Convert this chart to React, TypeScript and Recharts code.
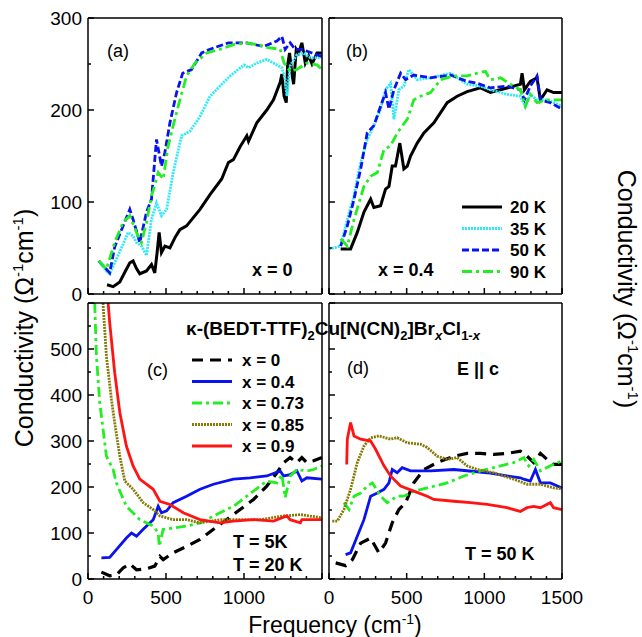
import { Line, LineChart, XAxis, YAxis } from "recharts";

// conductivity spectra, [frequency cm^-1, sigma Ohm^-1 cm^-1]
const a20K = [[122,10],[161,8],[204,13],[240,25],[268,34],[289,36],[310,28],[332,22],[375,25],[407,32],[428,23],[443,45],[456,67],[471,45],[493,52],[525,50],[560,62],[589,70],[632,74],[675,83],[718,92],[782,108],[857,125],[900,143],[932,146],[975,160],[1018,172],[1029,166],[1082,186],[1146,200],[1189,211],[1232,230],[1243,239],[1257,215],[1271,208],[1279,248],[1292,262],[1307,240],[1318,228],[1335,266],[1350,262],[1371,273],[1393,251],[1414,259],[1436,250],[1468,262],[1500,262]];
const a35K = [[69,36],[118,25],[139,22],[171,34],[225,54],[257,67],[289,63],[311,56],[343,52],[375,42],[407,81],[439,99],[471,85],[504,92],[546,132],[600,172],[654,177],[718,193],[782,215],[846,226],[911,237],[1000,249],[1029,246],[1082,251],[1146,255],[1211,249],[1243,246],[1264,233],[1275,215],[1296,248],[1339,260],[1382,262],[1425,257],[1500,257]];
const a50K = [[69,36],[139,23],[171,51],[225,74],[268,92],[289,81],[332,56],[375,89],[407,103],[439,168],[471,139],[493,154],[525,186],[568,219],[607,240],[664,244],[729,262],[782,266],[900,273],[1018,273],[1125,269],[1211,275],[1243,280],[1264,266],[1296,273],[1328,266],[1371,266],[1436,262],[1500,258]];
const a90K = [[69,36],[118,27],[171,56],[225,78],[268,85],[311,67],[343,56],[375,78],[407,107],[428,118],[450,132],[482,125],[514,161],[546,183],[589,211],[632,237],[686,251],[761,262],[846,266],[932,271],[1007,273],[1093,271],[1146,268],[1232,266],[1257,251],[1296,242],[1339,244],[1403,251],[1468,249],[1500,244]];

const b20K = [[75,49],[139,49],[182,67],[225,89],[268,103],[289,94],[332,96],[364,114],[386,117],[407,139],[428,139],[456,164],[482,136],[504,139],[525,150],[568,164],[611,175],[675,186],[761,208],[825,215],[889,220],[975,224],[1039,219],[1104,222],[1189,226],[1232,228],[1243,240],[1258,222],[1296,231],[1339,235],[1361,211],[1404,222],[1446,219],[1500,219]];
const b35K = [[0,49],[75,52],[118,81],[161,107],[204,143],[246,168],[289,183],[332,201],[364,222],[396,229],[418,190],[450,222],[482,226],[514,244],[568,233],[654,235],[782,240],[889,228],[975,226],[1039,222],[1146,217],[1232,215],[1264,204],[1296,217],[1339,211],[1404,211],[1500,204]];
const b50K = [[75,52],[118,74],[161,103],[204,136],[246,175],[289,183],[332,204],[364,219],[386,201],[418,222],[461,240],[493,233],[546,238],[654,235],[782,238],[889,231],[954,229],[1039,224],[1146,226],[1232,222],[1258,211],[1296,226],[1339,237],[1361,211],[1425,208],[1500,201]];
const b90K = [[75,60],[118,52],[161,81],[225,117],[268,128],[311,132],[354,157],[396,161],[439,175],[504,190],[546,211],[589,215],[654,219],[718,233],[804,237],[889,237],[954,240],[1007,242],[1039,233],[1104,235],[1168,228],[1232,222],[1264,204],[1296,217],[1339,208],[1404,211],[1500,211]];

const c0 = [[86,15],[139,7],[182,9],[225,24],[268,33],[311,20],[375,22],[428,28],[461,49],[482,42],[546,57],[632,71],[718,86],[804,108],[889,129],[975,151],[1061,173],[1146,202],[1211,231],[1254,253],[1296,264],[1339,253],[1371,264],[1403,253],[1446,257],[1500,264]];
const c04 = [[86,46],[139,47],[182,64],[246,89],[279,100],[311,93],[354,108],[418,129],[450,158],[471,144],[504,148],[546,166],[632,180],[718,195],[804,206],[932,217],[1039,220],[1146,224],[1232,235],[1254,224],[1296,227],[1339,235],[1371,213],[1403,220],[1500,217]];
const c073 = [[43,600],[54,485],[75,384],[118,267],[161,238],[182,209],[246,158],[332,129],[418,115],[450,100],[457,71],[482,108],[546,111],[632,115],[718,122],[846,144],[932,158],[1018,180],[1104,202],[1146,213],[1211,209],[1243,227],[1264,177],[1296,224],[1339,238],[1403,235],[1446,238],[1500,246]];
const c085 = [[96,600],[118,485],[150,391],[171,340],[204,267],[236,213],[289,195],[354,166],[418,151],[461,137],[546,129],[632,129],[718,122],[846,129],[975,129],[1104,129],[1254,137],[1361,140],[1500,133]];
const c09 = [[129,600],[139,558],[171,449],[204,362],[246,289],[289,246],[332,217],[418,195],[461,169],[525,162],[611,144],[718,129],[846,122],[932,126],[1061,129],[1189,126],[1275,137],[1296,129],[1361,122],[1371,129],[1425,129],[1500,129]];

const d0 = [[43,35],[107,29],[150,42],[204,78],[268,89],[321,57],[364,78],[407,122],[450,151],[493,166],[546,209],[611,238],[696,253],[804,267],[889,273],[975,273],[1061,271],[1146,273],[1232,278],[1275,267],[1318,253],[1361,273],[1404,260],[1446,249],[1500,249]];
const d04 = [[107,53],[139,57],[182,93],[225,129],[268,180],[311,187],[354,195],[386,209],[407,238],[439,231],[471,242],[525,235],[654,235],[804,238],[1018,231],[1146,224],[1232,220],[1254,217],[1296,213],[1329,238],[1361,209],[1425,209],[1500,198]];
const d073 = [[96,166],[129,151],[161,180],[204,187],[246,202],[279,209],[332,180],[375,166],[439,180],[482,180],[546,191],[632,198],[761,209],[868,224],[975,235],[1104,246],[1189,253],[1254,264],[1286,246],[1318,260],[1361,235],[1425,246],[1500,257]];
const d085 = [[21,126],[54,126],[96,151],[139,195],[182,253],[225,289],[268,307],[321,311],[396,304],[439,307],[504,296],[589,293],[632,286],[696,267],[761,260],[825,264],[889,246],[954,238],[1061,231],[1189,217],[1275,206],[1361,206],[1446,198],[1500,196]];
const d09 = [[114,249],[118,304],[139,340],[161,311],[204,304],[268,300],[300,282],[354,246],[396,224],[461,202],[546,191],[632,180],[675,173],[804,169],[911,166],[1018,162],[1146,155],[1232,147],[1275,155],[1318,158],[1361,155],[1425,166],[1446,155],[1500,151]];

const freqTicks = [0,100,200,300,400,500,600,700,800,900,1000,1100,1200,1300,1400,1500];
const topTicks = [0,50,100,150,200,250,300];
const bottomTicks = [0,50,100,150,200,250,300,350,400,450,500,550,600];

const tempLegend = ["20 K", "35 K", "50 K", "90 K"];
const dopingLegend = ["x = 0", "x = 0.4", "x = 0.73", "x = 0.85", "x = 0.9"];

const W = 642;
const H = 637;
const FONT = "'Liberation Sans', Arial, sans-serif";

const BLACK = "#000";
const CYAN = "#2EEAF8";
const BLUE = "#0A12EE";
const GREEN = "#22EE22";
const OLIVE = "#857A05";
const RED = "#FF1414";

const pts = (arr: number[][]) => arr.map(([f, v]) => ({ f, v }));

type Side = "bottom" | "top" | "left" | "right";

function tickFn(side: Side, labels: number[], majorStep: number) {
  return (p: any) => {
    const { x, y, payload } = p;
    const v = payload.value;
    const len = v % majorStep === 0 ? 6 : 3;
    const show = labels.includes(v);
    const txt = { fontFamily: FONT, fontSize: 19, fill: "#000" };
    if (side === "bottom")
      return (
        <g>
          <line x1={x} y1={y} x2={x} y2={y - len} stroke="#000" strokeWidth={1.5} />
          {show && <text x={x} y={y + 25} textAnchor="middle" {...txt}>{v}</text>}
        </g>
      );
    if (side === "top")
      return <line x1={x} y1={y} x2={x} y2={y + len} stroke="#000" strokeWidth={1.5} />;
    if (side === "left")
      return (
        <g>
          <line x1={x} y1={y} x2={x + len} y2={y} stroke="#000" strokeWidth={1.5} />
          {show && <text x={x - 6} y={y + 7} textAnchor="end" {...txt}>{v}</text>}
        </g>
      );
    return (
      <g>
        <line x1={x} y1={y} x2={x - len} y2={y} stroke="#000" strokeWidth={1.5} />
        {show && <text x={x + 8} y={y + 7} textAnchor="start" {...txt}>{v}</text>}
      </g>
    );
  };
}

type Series = { data: number[][]; color: string; dash?: string; width?: number };

function Panel({
  box, yMax, yTicks, xLabels, leftLabels, rightLabels, series,
}: {
  box: [number, number, number, number];
  yMax: number;
  yTicks: number[];
  xLabels: number[];
  leftLabels: number[];
  rightLabels: number[];
  series: Series[];
}) {
  const [l, r, t, b] = box;
  const axisLine = { stroke: "#000", strokeWidth: 1.5 };
  // each axis is 1px thick, margins leave room so the plot area lands on the box
  return (
    <div style={{ position: "absolute", left: 0, top: 0 }}>
      <LineChart width={W} height={H} margin={{ left: l - 1, right: W - r - 1, top: t - 1, bottom: H - b - 1 }}>
        <XAxis xAxisId="b" dataKey="f" type="number" domain={[0, 1500]} ticks={freqTicks} interval={0}
          height={1} tickSize={0} tickMargin={0} tickLine={false} axisLine={axisLine}
          tick={tickFn("bottom", xLabels, 500)} />
        <XAxis xAxisId="t" orientation="top" dataKey="f" type="number" domain={[0, 1500]} ticks={freqTicks} interval={0}
          height={1} tickSize={0} tickMargin={0} tickLine={false} axisLine={axisLine}
          tick={tickFn("top", [], 500)} />
        <YAxis yAxisId="l" type="number" domain={[0, yMax]} ticks={yTicks} interval={0}
          width={1} tickSize={0} tickMargin={0} tickLine={false} axisLine={axisLine}
          tick={tickFn("left", leftLabels, 100)} />
        <YAxis yAxisId="r" orientation="right" type="number" domain={[0, yMax]} ticks={yTicks} interval={0}
          width={1} tickSize={0} tickMargin={0} tickLine={false} axisLine={axisLine}
          tick={tickFn("right", rightLabels, 100)} />
        {series.map((s, i) => (
          <Line key={i} xAxisId="b" yAxisId="l" data={pts(s.data)} dataKey="v" type="linear"
            stroke={s.color} strokeWidth={s.width ?? 2.8} strokeDasharray={s.dash}
            dot={false} isAnimationActive={false} />
        ))}
      </LineChart>
    </div>
  );
}

const DOT = "2 1";
const DASH = "7 3";
const DASHDOT = "10 4 3 4";
const LONGDASH = "11 7";

const tempStyles: Series[] = [
  { data: [], color: BLACK, width: 3 },
  { data: [], color: CYAN, dash: DOT },
  { data: [], color: BLUE, dash: DASH },
  { data: [], color: GREEN, dash: DASHDOT },
];
const dopingStyles: Series[] = [
  { data: [], color: BLACK, dash: LONGDASH, width: 3.2 },
  { data: [], color: BLUE },
  { data: [], color: GREEN, dash: DASHDOT },
  { data: [], color: OLIVE, dash: DOT },
  { data: [], color: RED },
];

const withData = (styles: Series[], sets: number[][][]) => styles.map((s, i) => ({ ...s, data: sets[i] }));

export default function App() {
  const bold = { fontFamily: FONT, fontWeight: "bold" as const, fill: "#000" };
  const plain = { fontFamily: FONT, fill: "#000" };
  return (
    <div style={{ position: "absolute", left: 0, top: 0, width: W, height: H, background: "#fff" }}>
      <Panel box={[88, 322, 18, 294]} yMax={300} yTicks={topTicks} xLabels={[]} leftLabels={[0, 100, 200, 300]}
        rightLabels={[]} series={withData(tempStyles, [a20K, a35K, a50K, a90K])} />
      <Panel box={[329, 562, 18, 294]} yMax={300} yTicks={topTicks} xLabels={[]} leftLabels={[]}
        rightLabels={[0, 100, 200, 300]} series={withData(tempStyles, [b20K, b35K, b50K, b90K])} />
      <Panel box={[88, 322, 303, 579]} yMax={600} yTicks={bottomTicks} xLabels={[0, 500, 1000]}
        leftLabels={[0, 100, 200, 300, 400, 500]} rightLabels={[]} series={withData(dopingStyles, [c0, c04, c073, c085, c09])} />
      <Panel box={[329, 562, 303, 579]} yMax={600} yTicks={bottomTicks} xLabels={[0, 500, 1000, 1500]}
        leftLabels={[]} rightLabels={[0, 100, 200, 300, 400, 500]} series={withData(dopingStyles, [d0, d04, d073, d085, d09])} />
      <svg width={W} height={H} style={{ position: "absolute", left: 0, top: 0 }}>
        <text x={107} y={57} fontSize={18} {...plain}>(a)</text>
        <text x={346} y={57} fontSize={18} {...plain}>(b)</text>
        <text x={147} y={376} fontSize={18} {...plain}>(c)</text>
        <text x={347} y={374} fontSize={18} {...plain}>(d)</text>
        <text x={252} y={276} fontSize={18} {...bold}>x = 0</text>
        <text x={378} y={276} fontSize={18} {...bold}>x = 0.4</text>
        <text x={457} y={375} fontSize={18} {...bold}>E || c</text>
        <text x={233} y={548} fontSize={18} {...bold}>T = 5K</text>
        <text x={233} y={571} fontSize={18} {...bold}>T = 20 K</text>
        <text x={465} y={560} fontSize={18} {...bold}>T = 50 K</text>

        {tempLegend.map((name, i) => {
          const s = tempStyles[i];
          const y = 207 + i * 21.5;
          return (
            <g key={name}>
              <line x1={462} x2={502} y1={y} y2={y} stroke={s.color} strokeWidth={s.width ?? 2.8} strokeDasharray={s.dash} />
              <text x={510} y={y + 6} fontSize={17} {...bold}>{name}</text>
            </g>
          );
        })}
        {dopingLegend.map((name, i) => {
          const s = dopingStyles[i];
          const y = 360 + i * 21.5;
          return (
            <g key={name}>
              <line x1={192} x2={232} y1={y} y2={y} stroke={s.color} strokeWidth={s.width ?? 2.8} strokeDasharray={s.dash} />
              <text x={242} y={y + 6} fontSize={17} {...bold}>{name}</text>
            </g>
          );
        })}

        <text x={333} y={335} textAnchor="middle" fontSize={19} {...bold}>
          κ-(BEDT-TTF)<tspan fontSize={13} dy={5}>2</tspan>
          <tspan dy={-5}>Cu[N(CN)</tspan><tspan fontSize={13} dy={5}>2</tspan>
          <tspan dy={-5}>]Br</tspan><tspan fontSize={13} dy={5} fontStyle="italic">x</tspan>
          <tspan dy={-5}>Cl</tspan><tspan fontSize={13} dy={5}>1-</tspan><tspan fontSize={13} fontStyle="italic">x</tspan>
        </text>

        <text transform="translate(33,328) rotate(-90)" textAnchor="middle" fontSize={25} {...plain}>
          Conductivity (Ω<tspan fontSize={15} dy={-10}>-1</tspan><tspan dy={10}>cm</tspan>
          <tspan fontSize={15} dy={-10}>-1</tspan><tspan dy={10}>)</tspan>
        </text>
        <text transform="translate(618,289) rotate(90)" textAnchor="middle" fontSize={25} {...plain}>
          Conductivity (Ω<tspan fontSize={15} dy={-10}>-1</tspan><tspan dy={10}>cm</tspan>
          <tspan fontSize={15} dy={-10}>-1</tspan><tspan dy={10}>)</tspan>
        </text>
        <text x={335} y={633} textAnchor="middle" fontSize={23} {...plain}>
          Frequency (cm<tspan fontSize={14} dy={-9}>-1</tspan><tspan dy={9}>)</tspan>
        </text>
      </svg>
    </div>
  );
}
